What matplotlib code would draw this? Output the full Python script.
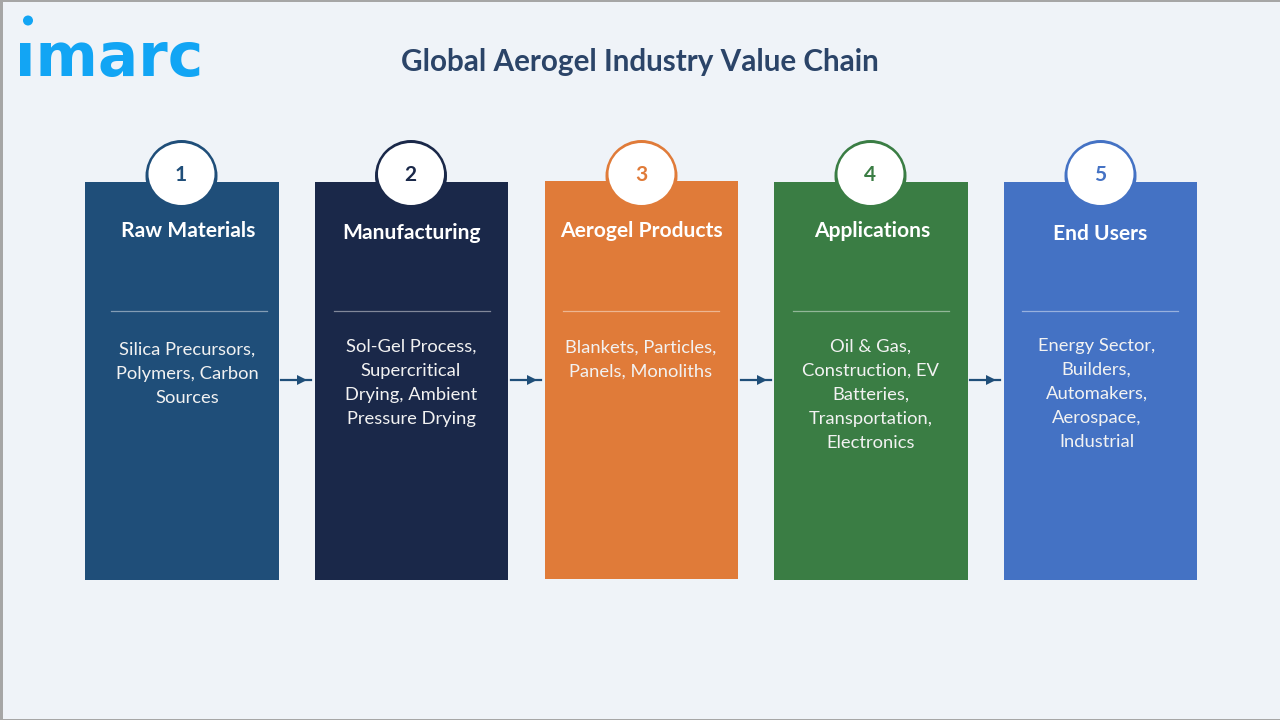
import matplotlib
matplotlib.use("Agg")
import matplotlib.pyplot as plt
from matplotlib.patches import Rectangle, Circle, Ellipse

plt.rcParams['font.family'] = ['Lato', 'DejaVu Sans']

title = "Global Aerogel Industry Value Chain"
logo_text = "\u0131marc"
numbers = ["1", "2", "3", "4", "5"]
stages = ["Raw Materials", "Manufacturing", "Aerogel Products", "Applications", "End Users"]
details = [
    "Silica Precursors,\nPolymers, Carbon\nSources",
    "Sol-Gel Process,\nSupercritical\nDrying, Ambient\nPressure Drying",
    "Blankets, Particles,\nPanels, Monoliths",
    "Oil & Gas,\nConstruction, EV\nBatteries,\nTransportation,\nElectronics",
    "Energy Sector,\nBuilders,\nAutomakers,\nAerospace,\nIndustrial",
]

# layout, in pixels of the 1280x720 picture
colors = ['#1F4E79', '#1A2849', '#E07B39', '#3A7D44', '#4472C4']
box_left = [85, 315, 545, 774, 1004]
box_right = [279, 508, 738, 968, 1197]
box_top = [182, 182, 181, 182, 182]
box_bottom = [580, 580, 579, 580, 580]
circle_x = [181.5, 411, 641.5, 870.5, 1100.5]
stage_x = [188.5, 411.5, 641, 872, 1100]
stage_y = [231, 233, 231, 231, 233.5]
rule_y = [311, 311, 310.5, 310.5, 310.5]
rule_left = [111, 334, 563, 793, 1022]
rule_right = [267, 490, 719, 949, 1178]
detail_x = [187, 411, 641, 870.5, 1096.5]
detail_top = [350, 347, 348, 347, 346]
arrow_left = [281, 511, 741, 970]
arrow_y = 379.5

fig = plt.figure(figsize=(12.8, 7.2), dpi=100, facecolor='#EFF3F8')
ax = fig.add_axes([0, 0, 1, 1])
ax.set_xlim(0, 1280)
ax.set_ylim(720, 0)
ax.axis('off')

# grey slide edge
ax.add_patch(Rectangle((0, 0), 1280, 1.5, color='#A6A6A6', lw=0))
ax.add_patch(Rectangle((0, 0), 2.5, 720, color='#A6A6A6', lw=0))
ax.add_patch(Rectangle((0, 718.8), 1280, 1.2, color='#A6A6A6', lw=0))

# logo
ax.add_patch(Circle((28, 20.5), 5, color='#12A5F4', lw=0))
ax.text(15.5, 76, logo_text, color='#12A5F4', fontsize=43, fontweight='bold',
        family='DejaVu Sans', ha='left', va='baseline')

ax.text(640, 62, title, color='#2B4468', fontsize=21.3, fontweight='bold', ha='center', va='center')

for i in range(5):
    c = colors[i]
    ax.add_patch(Rectangle((box_left[i], box_top[i]), box_right[i] - box_left[i],
                           box_bottom[i] - box_top[i], color=c, lw=0, zorder=1))
    ax.add_patch(Circle((circle_x[i], 176), 36, facecolor=c, lw=0, zorder=2))
    ax.add_patch(Ellipse((circle_x[i], 174), 66, 62, facecolor='white', lw=0, zorder=2))
    ax.text(circle_x[i] - 0.5, 175, numbers[i], color=c, fontsize=15, fontweight='bold',
            ha='center', va='center', zorder=3)
    ax.text(stage_x[i], stage_y[i], stages[i], color='white', fontsize=15.1, fontweight='bold',
            ha='center', va='center', zorder=3)
    ax.plot([rule_left[i], rule_right[i]], [rule_y[i], rule_y[i]], color='#FFFFFF', alpha=0.45,
            lw=0.9, zorder=2)
    lines = details[i].split("\n")
    for j, line in enumerate(lines):
        ax.text(detail_x[i], detail_top[i] + 24 * j, line, color='#F2F2F2', fontsize=13.2,
                ha='center', va='center', zorder=3)

for x in arrow_left:
    ax.plot([x, x + 30], [arrow_y, arrow_y], color='#1F4E79', lw=1.6, zorder=2)
    ax.plot([x + 21], [arrow_y], marker='>', ms=6.5, color='#1F4E79', mew=0, zorder=2)

fig.savefig("out.png", dpi=100, facecolor=fig.get_facecolor())
